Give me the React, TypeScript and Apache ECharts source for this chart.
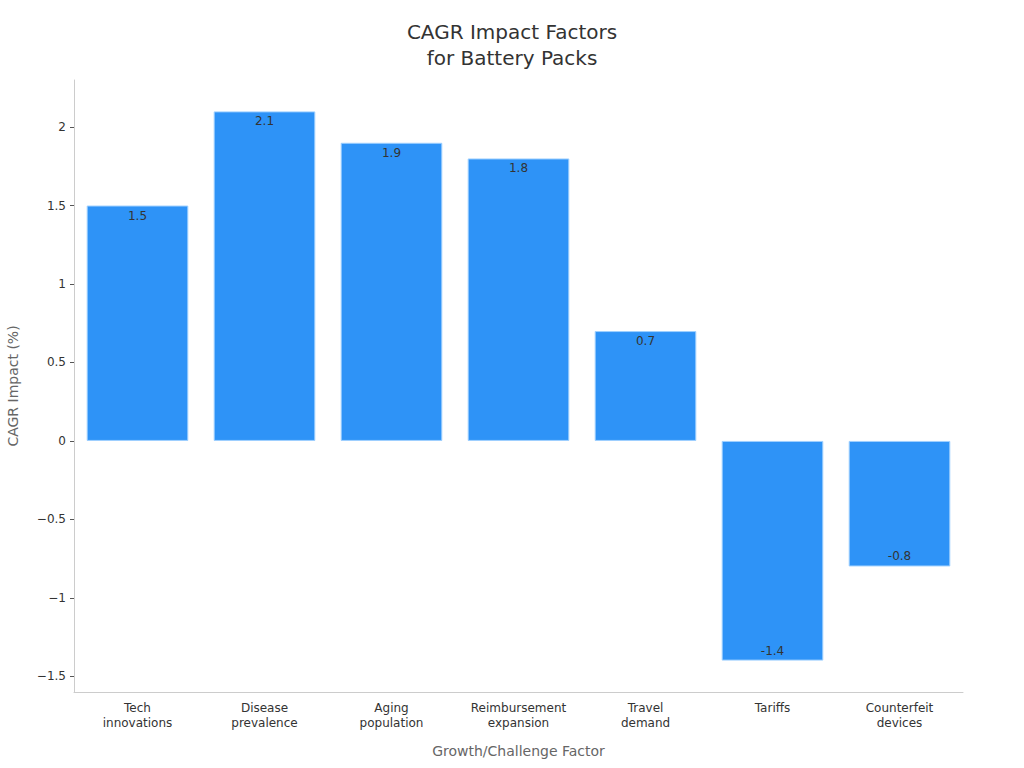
import React, { useEffect, useRef } from "react";
import * as echarts from "echarts";

const categories = [
  "Tech\ninnovations",
  "Disease\nprevalence",
  "Aging\npopulation",
  "Reimbursement\nexpansion",
  "Travel\ndemand",
  "Tariffs",
  "Counterfeit\ndevices",
];
const values = [1.5, 2.1, 1.9, 1.8, 0.7, -1.4, -0.8];
const yTicks = [-1.5, -1, -0.5, 0, 0.5, 1, 1.5, 2];

export default function App() {
  const ref = useRef<HTMLDivElement>(null);
  useEffect(() => {
    if (!ref.current) return;
    const chart = echarts.init(ref.current, undefined, { renderer: "svg" });
    const font = "DejaVu Sans";
    chart.setOption({
      animation: false,
      textStyle: { fontFamily: font },
      title: {
        text: "CAGR Impact Factors\nfor Battery Packs",
        left: "center",
        top: 14,
        textStyle: { fontFamily: font, fontSize: 20, fontWeight: "normal", color: "#333", lineHeight: 26 },
      },
      grid: { left: 74, right: 61, top: 80, bottom: 76, outerBoundsMode: "none" },
      xAxis: {
        type: "category",
        data: categories,
        name: "Growth/Challenge Factor",
        nameLocation: "middle",
        nameGap: 52,
        nameTextStyle: { fontFamily: font, fontSize: 14, color: "#666" },
        axisLine: { onZero: false, lineStyle: { color: "#ccc" } },
        axisTick: { alignWithLabel: true, length: 4, lineStyle: { color: "#555" } },
        axisLabel: { fontFamily: font, fontSize: 12, color: "#333", lineHeight: 15, margin: 8, interval: 0 },
      },
      yAxis: {
        type: "value",
        min: -1.6,
        max: 2.3,
        name: "CAGR Impact (%)",
        nameLocation: "middle",
        nameGap: 54,
        nameTextStyle: { fontFamily: font, fontSize: 14, color: "#666" },
        axisLine: { show: true, lineStyle: { color: "#ccc" } },
        axisTick: { show: true, length: 4, lineStyle: { color: "#555" }, customValues: yTicks },
        axisLabel: {
          fontFamily: font,
          fontSize: 12,
          color: "#333",
          margin: 8,
          customValues: yTicks,
          formatter: (v: number) => String(v).replace("-", "\u2212"),
        },
        splitLine: { show: false },
      },
      series: [
        {
          type: "bar",
          barCategoryGap: "20%",
          data: values.map((v) => ({
            value: v,
            label: { position: v >= 0 ? "insideTop" : "insideBottom", distance: 4 },
          })),
          itemStyle: { color: "#2E93F7", borderColor: "#9fd0ff", borderWidth: 1 },
          label: { show: true, fontFamily: font, fontSize: 12, color: "#333" },
        },
      ],
    });
    return () => chart.dispose();
  }, []);
  return <div ref={ref} style={{ width: 1024, height: 768, position: "absolute", left: 0, top: 0 }} />;
}
